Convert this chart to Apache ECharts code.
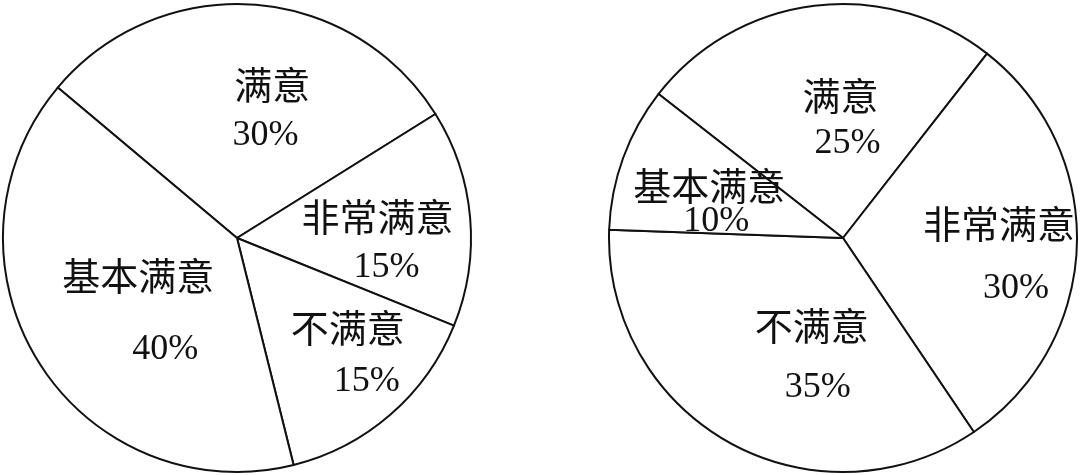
<!DOCTYPE html>
<html>
<head>
<meta charset="utf-8">
<script src="https://cdn.jsdelivr.net/npm/echarts@6/dist/echarts.min.js"></script>
<style>
html,body{margin:0;padding:0;background:#fff;}
#chart{width:1080px;height:475px;}
</style>
</head>
<body>
<div id="chart"></div>
<script>
// ---- data ----
var categories = ['满意', '非常满意', '不满意', '基本满意'];
var leftValues = [30, 15, 15, 40];
var rightValues = [25, 30, 35, 10];

// ---- label styling (offsets from default inside position, line gap, percent shift) ----
var leftLabelStyle = [
  {offset: [27, -6], gap: 46, shift: -7},
  {offset: [21, 17], gap: 47, shift: 9},
  {offset: [32, 28], gap: 50, shift: 19},
  {offset: [3, 13], gap: 70, shift: 27}
];
var rightLabelStyle = [
  {offset: [12, 3], gap: 43, shift: 7},
  {offset: [36, 16], gap: 61, shift: 17},
  {offset: [27, 16], gap: 58, shift: 6},
  {offset: [-21, 9], gap: 31, shift: 7}
];

var FONT = '"Liberation Serif", "Noto Sans CJK SC", serif';

function buildData(values, styles) {
  return categories.map(function (name, i) {
    var s = styles[i];
    var shiftPad = s.shift >= 0 ? [0, 0, 0, 2 * s.shift] : [0, -2 * s.shift, 0, 0];
    return {
      name: name,
      value: values[i],
      label: {
        offset: s.offset,
        rich: {
          n: {fontSize: 38, fontFamily: FONT, color: '#111', lineHeight: s.gap},
          p: {fontSize: 36, fontFamily: FONT, color: '#111', lineHeight: s.gap, padding: shiftPad}
        }
      }
    };
  });
}

function pieSeries(center, startAngle, values, styles) {
  return {
    type: 'pie',
    center: center,
    radius: 234,
    startAngle: startAngle,
    clockwise: true,
    avoidLabelOverlap: false,
    silent: true,
    animation: false,
    itemStyle: {color: '#ffffff', borderColor: '#111', borderWidth: 2},
    label: {
      show: true,
      position: 'inside',
      formatter: function (p) { return '{n|' + p.name + '}\n{p|' + p.value + '%}'; },
      color: '#111',
      fontFamily: FONT,
      fontSize: 36
    },
    labelLine: {show: false},
    emphasis: {disabled: true},
    data: buildData(values, styles)
  };
}

var chart = echarts.init(document.getElementById('chart'), null, {renderer: 'canvas'});
chart.setOption({
  backgroundColor: '#ffffff',
  animation: false,
  series: [
    pieSeries([237, 238], 140, leftValues, leftLabelStyle),
    pieSeries([843, 238], 142, rightValues, rightLabelStyle)
  ]
});
</script>
</body>
</html>
